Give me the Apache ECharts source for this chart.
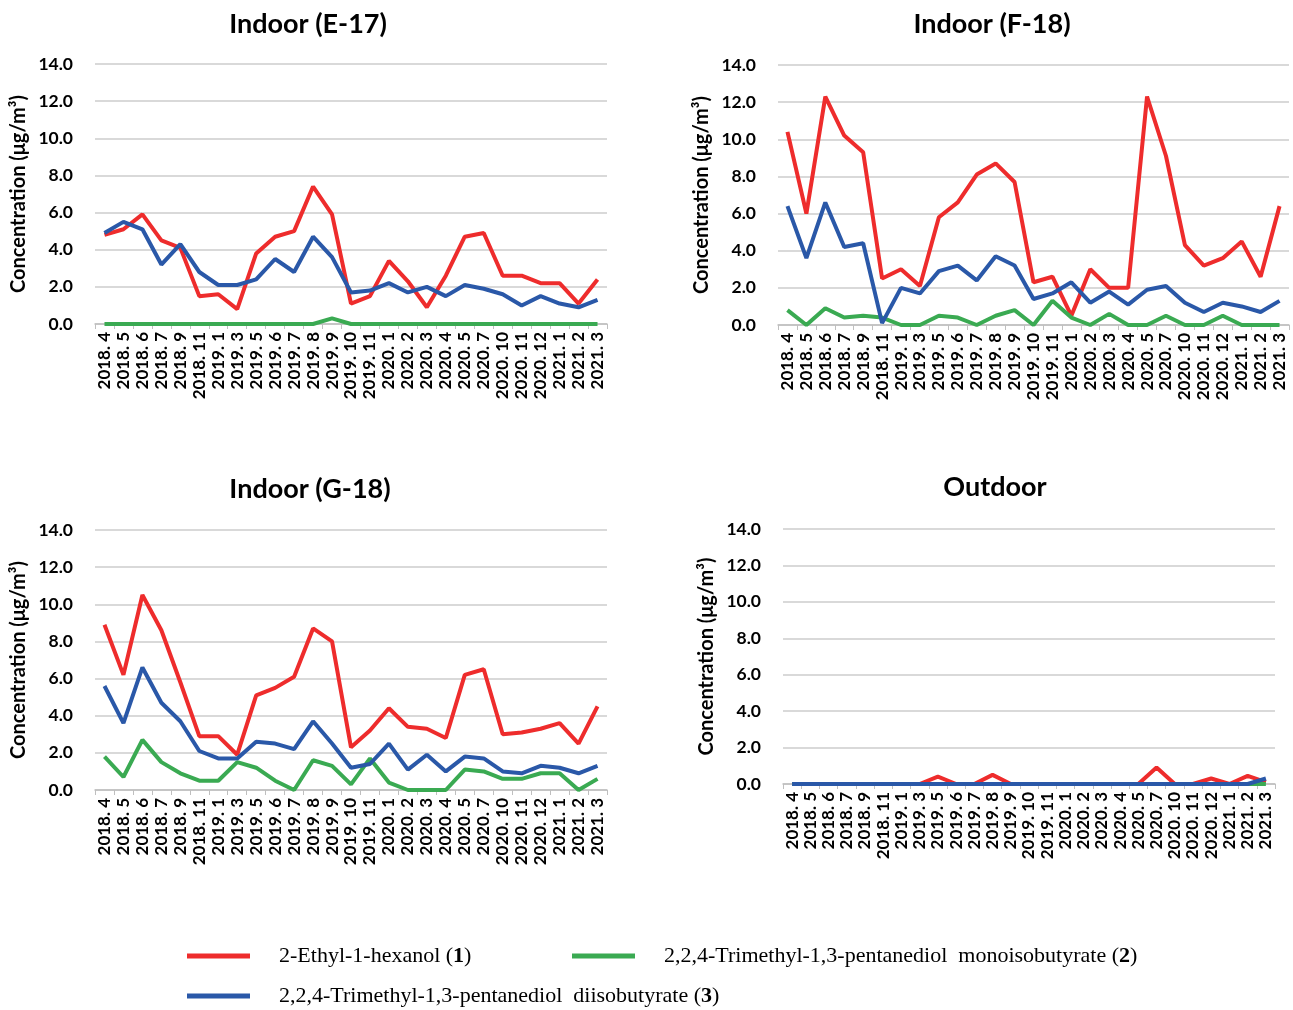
<!DOCTYPE html>
<html>
<head>
<meta charset="utf-8">
<script src="https://cdn.jsdelivr.net/npm/echarts@6/dist/echarts.min.js"></script>
<style>
  html, body { margin: 0; padding: 0; background: #fff; }
  #main { width: 1293px; height: 1010px; }
</style>
</head>
<body>
<div id="main"></div>
<script>
var categories = ['2018. 4', '2018. 5', '2018. 6', '2018. 7', '2018. 9', '2018. 11', '2019. 1', '2019. 3', '2019. 5',
    '2019. 6', '2019. 7', '2019. 8', '2019. 9', '2019. 10', '2019. 11', '2020. 1', '2020. 2', '2020. 3', '2020. 4',
    '2020. 5', '2020. 7', '2020. 10', '2020. 11', '2020. 12', '2021. 1', '2021. 2', '2021. 3'];

var seriesNames = ['2-Ethyl-1-hexanol', '2,2,4-Trimethyl-1,3-pentanediol  monoisobutyrate', '2,2,4-Trimethyl-1,3-pentanediol  diisobutyrate'];
var seriesNumbers = ['1', '2', '3'];
var seriesColors = ['#ee2c2c', '#3aaa52', '#2a58a8'];

var panelTitles = ['Indoor (E-17)', 'Indoor (F-18)', 'Indoor (G-18)', 'Outdoor'];

// E-17
var e17Hexanol = [4.8, 5.1, 5.9, 4.5, 4.1, 1.5, 1.6, 0.8, 3.8, 4.7, 5.0, 7.4, 5.9, 1.1, 1.5, 3.4, 2.3, 0.9, 2.6, 4.7, 4.9, 2.6, 2.6, 2.2, 2.2, 1.1, 2.4];
var e17Mono = [0, 0, 0, 0, 0, 0, 0, 0, 0, 0, 0, 0, 0.3, 0, 0, 0, 0, 0, 0, 0, 0, 0, 0, 0, 0, 0, 0];
var e17Di = [4.9, 5.5, 5.1, 3.2, 4.3, 2.8, 2.1, 2.1, 2.4, 3.5, 2.8, 4.7, 3.6, 1.7, 1.8, 2.2, 1.7, 2.0, 1.5, 2.1, 1.9, 1.6, 1.0, 1.5, 1.1, 0.9, 1.3];

// F-18
var f18Hexanol = [10.4, 6.0, 12.3, 10.2, 9.3, 2.5, 3.0, 2.1, 5.8, 6.6, 8.1, 8.7, 7.7, 2.3, 2.6, 0.5, 3.0, 2.0, 2.0, 12.3, 9.1, 4.3, 3.2, 3.6, 4.5, 2.6, 6.4];
var f18Mono = [0.8, 0, 0.9, 0.4, 0.5, 0.4, 0, 0, 0.5, 0.4, 0, 0.5, 0.8, 0, 1.3, 0.4, 0, 0.6, 0, 0, 0.5, 0, 0, 0.5, 0, 0, 0];
var f18Di = [6.4, 3.6, 6.6, 4.2, 4.4, 0.1, 2.0, 1.7, 2.9, 3.2, 2.4, 3.7, 3.2, 1.4, 1.7, 2.3, 1.2, 1.8, 1.1, 1.9, 2.1, 1.2, 0.7, 1.2, 1.0, 0.7, 1.3];

// G-18
var g18Hexanol = [8.9, 6.2, 10.5, 8.6, 5.8, 2.9, 2.9, 1.9, 5.1, 5.5, 6.1, 8.7, 8.0, 2.3, 3.2, 4.4, 3.4, 3.3, 2.8, 6.2, 6.5, 3.0, 3.1, 3.3, 3.6, 2.5, 4.5];
var g18Mono = [1.8, 0.7, 2.7, 1.5, 0.9, 0.5, 0.5, 1.5, 1.2, 0.5, 0, 1.6, 1.3, 0.3, 1.7, 0.4, 0, 0, 0, 1.1, 1.0, 0.6, 0.6, 0.9, 0.9, 0, 0.6];
var g18Di = [5.6, 3.6, 6.6, 4.7, 3.7, 2.1, 1.7, 1.7, 2.6, 2.5, 2.2, 3.7, 2.5, 1.2, 1.4, 2.5, 1.1, 1.9, 1.0, 1.8, 1.7, 1.0, 0.9, 1.3, 1.2, 0.9, 1.3];

// Outdoor
var outHexanol = [0, 0, 0, 0, 0, 0, 0, 0, 0.4, 0, 0, 0.5, 0, 0, 0, 0, 0, 0, 0, 0, 0.9, 0, 0, 0.3, 0, 0.45, 0.1];
var outMono = [0, 0, 0, 0, 0, 0, 0, 0, 0, 0, 0, 0, 0, 0, 0, 0, 0, 0, 0, 0, 0, 0, 0, 0, 0, 0, 0];
var outDi = [0, 0, 0, 0, 0, 0, 0, 0, 0, 0, 0, 0, 0, 0, 0, 0, 0, 0, 0, 0, 0, 0, 0, 0, 0, 0, 0.3];

var panelData = [
    [e17Hexanol, e17Mono, e17Di],
    [f18Hexanol, f18Mono, f18Di],
    [g18Hexanol, g18Mono, g18Di],
    [outHexanol, outMono, outDi]
];

var yTicks = { min: 0, max: 14, interval: 2 };

// layout of the four plot areas
var grids = [
    { left: 95, top: 64, width: 512, height: 260 },
    { left: 778, top: 65, width: 511, height: 260 },
    { left: 95, top: 530, width: 512, height: 260 },
    { left: 783, top: 529, width: 492, height: 255 }
];
var titlePos = [[303, 6], [987, 6], [305, 471], [990, 469]];

var sansFont = 'Lato';
var serifFont = '"Liberation Serif", "Times New Roman", serif';

var dom = document.getElementById('main');
var myChart = echarts.init(dom);

var option = {
    backgroundColor: '#fff',
    animation: false,
    title: [],
    grid: [],
    xAxis: [],
    yAxis: [],
    series: [],
    legend: []
};

for (var p = 0; p < 4; p++) {
    option.title.push({
        text: panelTitles[p],
        left: titlePos[p][0],
        top: titlePos[p][1],
        textAlign: 'center',
        textStyle: { fontFamily: sansFont, fontSize: 27, fontWeight: 'bold', color: '#000' }
    });
    option.grid.push(grids[p]);
    option.xAxis.push({
        type: 'category',
        gridIndex: p,
        data: categories,
        axisLine: { lineStyle: { color: '#bfbfbf', width: 1.5 } },
        axisTick: { show: true, length: 5, lineStyle: { color: '#bfbfbf' } },
        axisLabel: {
            interval: 0, rotate: 90, margin: 8,
            fontFamily: sansFont, fontSize: 17, fontWeight: 'bold', color: '#000'
        },
        splitLine: { show: false }
    });
    option.yAxis.push({
        type: 'value',
        gridIndex: p,
        min: yTicks.min, max: yTicks.max, interval: yTicks.interval,
        name: 'Concentration (μg/m³)',
        nameLocation: 'middle',
        nameGap: 66,
        nameTextStyle: { fontFamily: sansFont, fontSize: 20, fontWeight: 'bold', color: '#000' },
        axisLine: { show: false },
        axisTick: { show: false },
        axisLabel: {
            margin: 22,
            fontFamily: sansFont, fontSize: 17.5, fontWeight: 'bold', color: '#000',
            formatter: function (v) { return v.toFixed(1); }
        },
        splitLine: { lineStyle: { color: '#d9d9d9', width: 2 } }
    });
    for (var s = 0; s < 3; s++) {
        option.series.push({
            name: seriesNames[s],
            type: 'line',
            xAxisIndex: p,
            yAxisIndex: p,
            data: panelData[p][s],
            showSymbol: false,
            symbol: 'none',
            lineStyle: { width: 4, color: seriesColors[s] },
            itemStyle: { color: seriesColors[s] },
            emphasis: { disabled: true }
        });
    }
}

var legendPos = [[187, 945], [572, 945], [187, 985]];
for (var i = 0; i < 3; i++) {
    (function (idx) {
        option.legend.push({
            data: [seriesNames[idx]],
            left: legendPos[idx][0],
            top: legendPos[idx][1],
            padding: 0,
            icon: 'rect',
            itemWidth: 63,
            itemHeight: 5,
            selectedMode: false,
            formatter: function (name) {
                return name + ' ({b|' + seriesNumbers[idx] + '})';
            },
            textStyle: {
                fontFamily: serifFont, fontSize: 22, color: '#000',
                padding: [0, 0, 0, 24],
                rich: {
                    b: { fontFamily: serifFont, fontSize: 22, fontWeight: 'bold', color: '#000' }
                }
            }
        });
    })(i);
}

myChart.setOption(option);
</script>
</body>
</html>
